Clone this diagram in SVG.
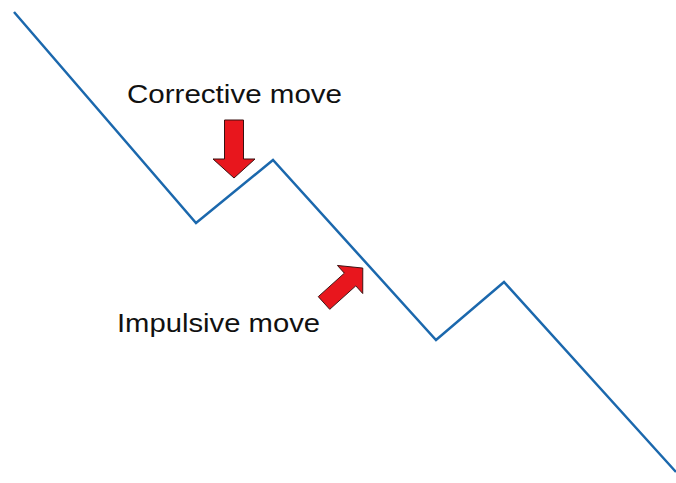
<svg xmlns="http://www.w3.org/2000/svg" width="676" height="483" viewBox="0 0 676 483">
<style>
.lbl{font-family:"Liberation Sans",Arial,sans-serif;font-size:25px;fill:#111}
.arrow{fill:#e8161d;stroke:#3a1010;stroke-width:1;stroke-linejoin:miter}
.price{fill:none;stroke:#1b68ad;stroke-width:2.5;stroke-linejoin:miter}
</style>
<defs>
<polygon id="arrowShape" points="-9.5,0 9.5,0 9.5,39 21,39 0,58 -21,39 -9.5,39"/>
</defs>
<rect width="676" height="483" fill="#fff"/>
<g id="connectors">
<polyline class="price" points="14,12 196,223 273,160 436,340 504,282 676,472"/>
</g>
<g id="corrective">
<use href="#arrowShape" class="arrow" transform="translate(234,120)"/>
<text class="lbl" x="127" y="103" textLength="215" lengthAdjust="spacingAndGlyphs">Corrective move</text>
</g>
<g id="impulsive">
<use href="#arrowShape" class="arrow" transform="translate(324,303) rotate(-132) scale(0.9)"/>
<text class="lbl" x="117" y="332" textLength="203" lengthAdjust="spacingAndGlyphs">Impulsive move</text>
</g>
</svg>
